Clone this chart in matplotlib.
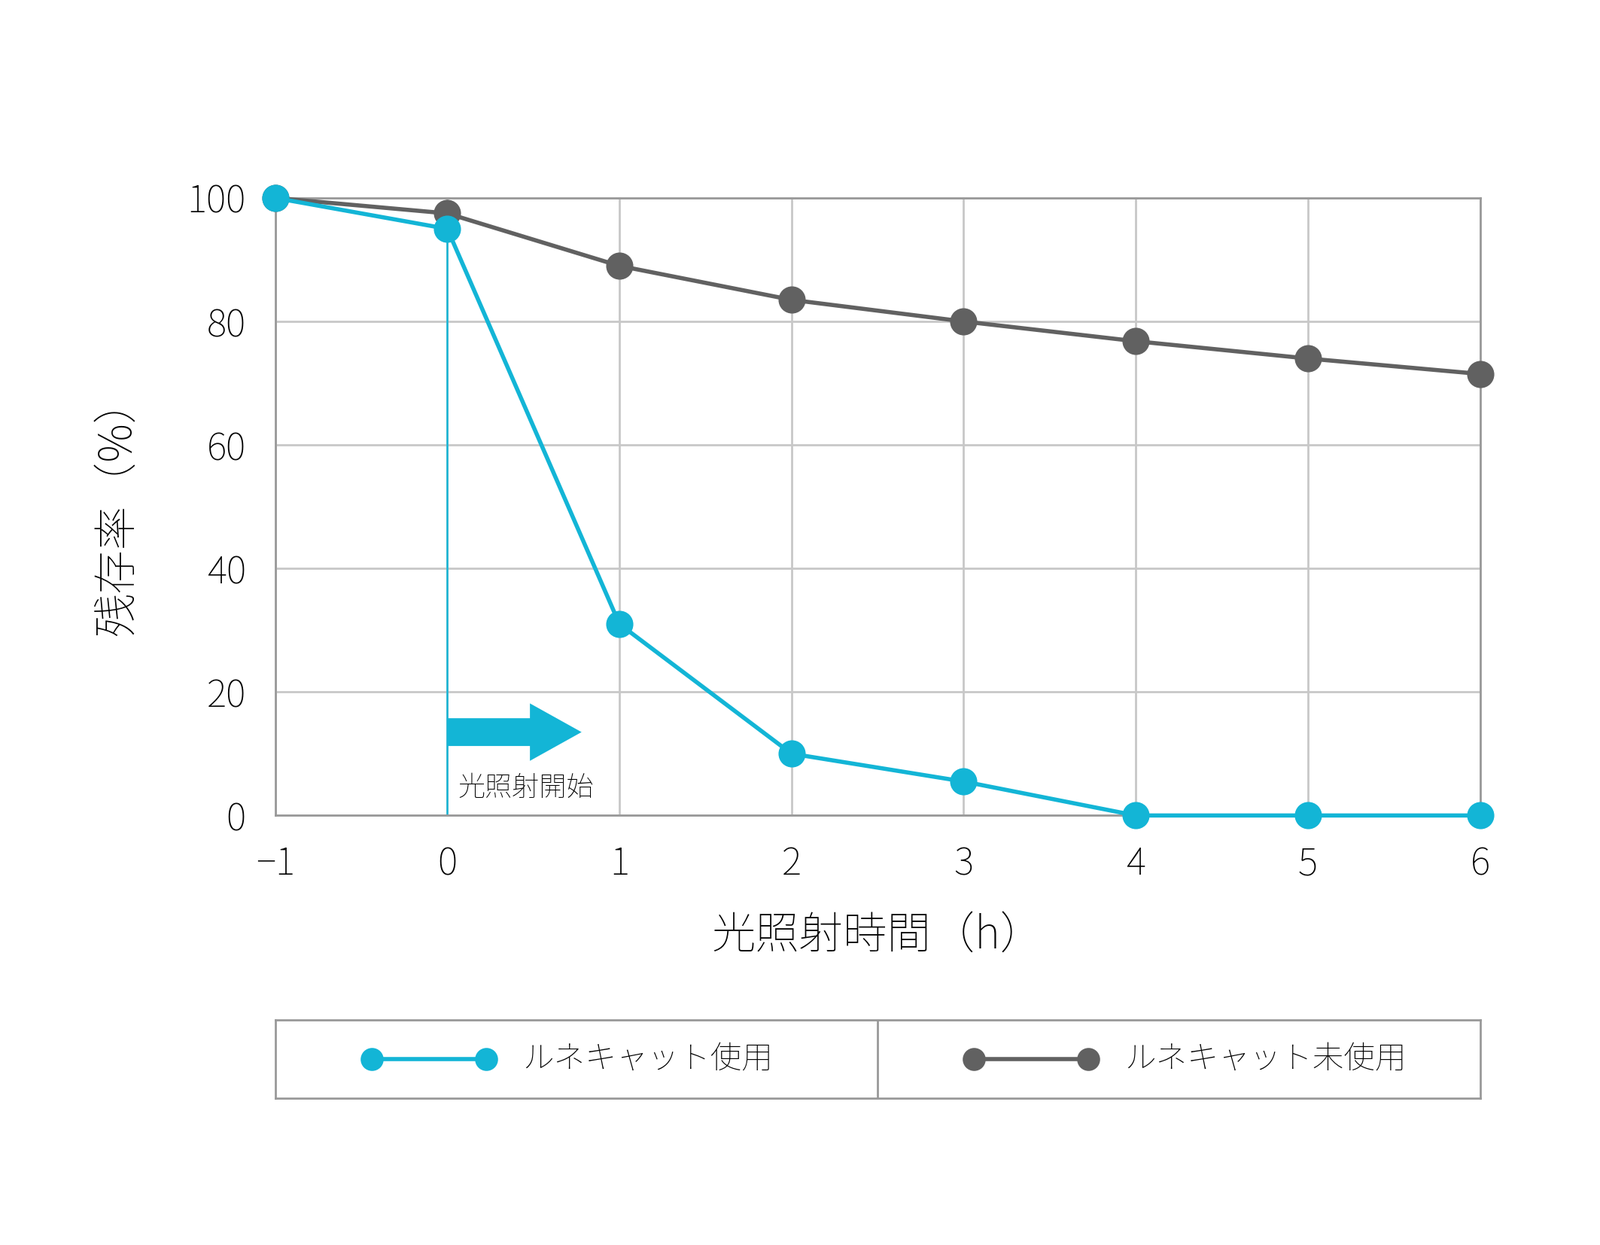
import matplotlib
matplotlib.use("Agg")
import matplotlib.pyplot as plt
from matplotlib.patches import FancyArrow

x = [-1, 0, 1, 2, 3, 4, 5, 6]
used = [100, 95, 31, 10, 5.5, 0, 0, 0]
unused = [100, 97.5, 89, 83.5, 80, 76.8, 74, 71.5]
yticks = [0, 20, 40, 60, 80, 100]
name_used = "ルネキャット使用"
name_unused = "ルネキャット未使用"
BLUE = "#13b5d6"
GRAY = "#616161"
GRID = "#c8c8c8"
FONT = "Noto Sans CJK JP"
plt.rcParams["font.family"] = FONT

fig = plt.figure(figsize=(10.63, 8.27), dpi=200)
ax = fig.add_axes([0.172, 0.345, 0.753, 0.496])
ax.set_xlim(-1, 6)
ax.set_ylim(0, 100)
ax.set_xticks(x)
ax.set_yticks(yticks)
ax.grid(True, color=GRID, linewidth=1.0)
for s in ax.spines.values():
    s.set_color("#999999")
    s.set_linewidth(1.0)
ax.tick_params(length=0, labelsize=18, pad=14)
for t in ax.get_xticklabels() + ax.get_yticklabels():
    t.set_fontweight("light")
ax.set_xlabel("光照射時間（h）", fontsize=21, labelpad=14, fontweight="light")
ax.set_ylabel("残存率（%）", fontsize=21, labelpad=22, fontweight="light")

ax.plot([0, 0], [0, used[1]], color=BLUE, lw=0.9, zorder=2)
ax.add_patch(FancyArrow(0, 13.5, 0.48, 0, width=4.5, head_width=9.3,
                        head_length=0.3, length_includes_head=False,
                        color=BLUE, lw=0, zorder=3))
ax.text(0.06, 4.5, "光照射開始", fontsize=13, va="center", ha="left", fontweight="light")

ax.plot(x, unused, color=GRAY, lw=2.0, marker="o", ms=12, zorder=4, clip_on=False)
ax.plot(x, used, color=BLUE, lw=2.0, marker="o", ms=12, zorder=5, clip_on=False)

lax = fig.add_axes([0.172, 0.118, 0.753, 0.063])
lax.set_xlim(0, 2)
lax.set_ylim(0, 1)
lax.set_xticks([]); lax.set_yticks([])
for s in lax.spines.values():
    s.set_color("#999999"); s.set_linewidth(1.0)
lax.axvline(1, color="#999999", lw=1.0)
for off, c, name in [(0, BLUE, name_used), (1, GRAY, name_unused)]:
    lax.plot([off + 0.16, off + 0.35], [0.5, 0.5], color=c, lw=2.0, marker="o", ms=10)
    lax.text(off + 0.41, 0.5, name, fontsize=15, va="center", ha="left", fontweight="light")

fig.savefig("out.png", dpi=200, facecolor="white")
